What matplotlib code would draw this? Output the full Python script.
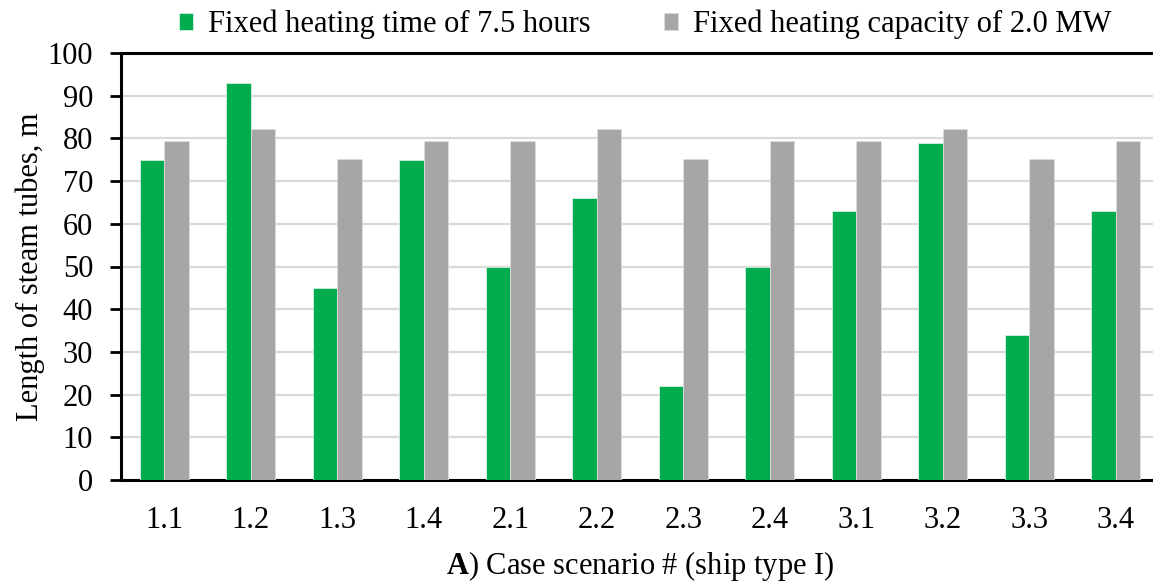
import numpy as np
import matplotlib
matplotlib.use("Agg")
import matplotlib.pyplot as plt

plt.rcParams['font.family'] = ['Liberation Serif', 'DejaVu Serif']
plt.rcParams['mathtext.fontset'] = 'custom'
plt.rcParams['mathtext.bf'] = 'Liberation Serif:bold'
plt.rcParams['mathtext.rm'] = 'Liberation Serif'

# scenarios and tube lengths (m)
scenarios = ["1.1", "1.2", "1.3", "1.4", "2.1", "2.2", "2.3", "2.4", "3.1", "3.2", "3.3", "3.4"]
fixed_time = [75, 93, 45, 75, 50, 66, 22, 50, 63, 79, 34, 63]
fixed_capacity = [79.5, 82.3, 75.2, 79.5, 79.5, 82.3, 75.2, 79.5, 79.5, 82.3, 75.2, 79.5]
yticks = list(range(0, 101, 10))

vert = "#00AD4E"
gris = "#A6A6A6"

fig = plt.figure(figsize=(11.53, 5.85), dpi=100)
# l'axe deborde a droite de la figure
ax = fig.add_axes([121 / 1153, 1 - 480 / 585, 1038 / 1153, 427 / 585])

x = np.arange(len(scenarios))
w = 0.285
ax.bar(x - w / 2, fixed_time, w, color=vert, edgecolor="#d8efe0", linewidth=0.6,
       label="Fixed heating time of 7.5 hours", zorder=3)
ax.bar(x + w / 2, fixed_capacity, w, color=gris, edgecolor="#dcdcdc", linewidth=0.6,
       label="Fixed heating capacity of 2.0 MW", zorder=3)

ax.set_xlim(-0.5, len(scenarios) - 0.5)
ax.set_ylim(0, 100)
ax.set_yticks(yticks)
ax.set_xticks(x)
ax.set_xticklabels(scenarios)
ax.yaxis.grid(True, color="#D9D9D9", linewidth=1.6, zorder=0)
ax.set_axisbelow(True)

for s in ["left", "bottom", "top"]:
    ax.spines[s].set_color("black")
    ax.spines[s].set_linewidth(2.2)
ax.spines["right"].set_visible(False)

ax.tick_params(axis="y", direction="out", length=8, width=2, labelsize=22, pad=12)
ax.tick_params(axis="x", length=0, labelsize=22, pad=19)

ax.set_ylabel("Length of steam tubes, m", fontsize=22, labelpad=2)
ax.set_xlabel(r"$\mathbf{A}$) Case scenario # (ship type I)", fontsize=22, labelpad=10)

fig.legend(loc="upper center", bbox_to_anchor=(0.56, 1.03), ncol=2, frameon=False,
           fontsize=22, handlelength=0.45, handleheight=0.45, handletextpad=0.5,
           columnspacing=2.4)

fig.savefig("out.png", dpi=100)
